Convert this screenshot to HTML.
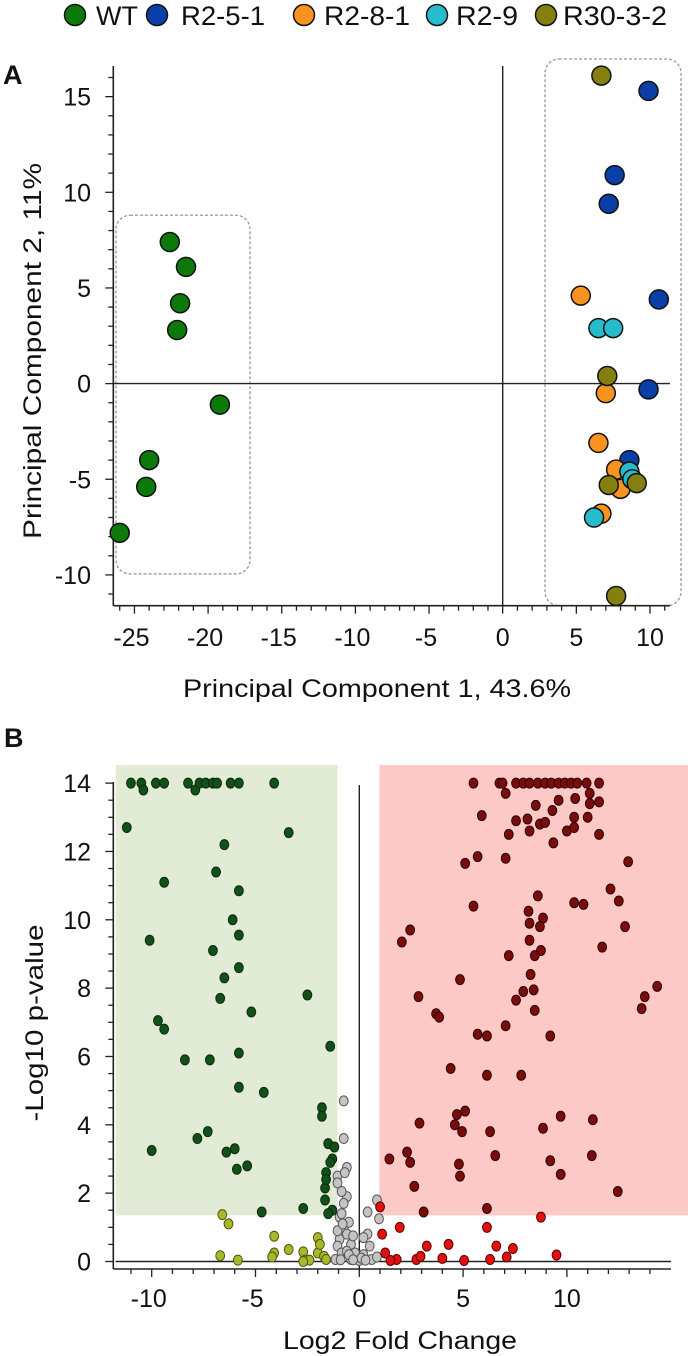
<!DOCTYPE html>
<html><head><meta charset="utf-8"><style>
html,body{margin:0;padding:0;background:#fff}
svg{display:block}
text{font-family:"Liberation Sans",Arial,sans-serif;fill:#111}
</style></head><body>
<svg id="s" width="688" height="1356" viewBox="0 0 688 1356" xmlns="http://www.w3.org/2000/svg">
<g id="legend"></g>
<text x="3" y="84" font-size="27" font-weight="bold">A</text>
<g id="pca"></g>
<text x="4" y="747" font-size="27" font-weight="bold">B</text>
<g id="vol"></g>
</svg>
<script>
// ---------- PCA data ----------
const groupNames = ["WT","R2-5-1","R2-8-1","R2-9","R30-3-2"];
const groupColors = ["#0b7a0b","#0b3fa8","#f7931e","#27bccb","#857f10"];
const wtPts = [[-22.6,7.4],[-21.5,6.1],[-21.9,4.2],[-22.1,2.8],[-19.2,-1.1],[-24,-4],[-24.2,-5.4],[-26,-7.8]];
const r251Pts = [[9.9,15.3],[7.6,10.9],[7.2,9.4],[10.6,4.4],[9.9,-0.3],[8.6,-4]];
const r281Pts = [[5.3,4.6],[7.0,-0.5],[6.5,-3.1],[7.7,-4.5],[8.0,-5.5],[6.7,-6.8]];
const r29Pts = [[6.5,2.9],[7.5,2.9],[8.6,-4.6],[8.8,-5],[6.2,-7]];
const r3032Pts = [[6.7,16.1],[7.1,0.4],[7.2,-5.3],[9.1,-5.2],[7.7,-11.1]];
const pcaXTicks = [-25,-20,-15,-10,-5,0,5,10];
const pcaYTicks = [-10,-5,0,5,10,15];

// ---------- Volcano data ----------
const downSig = [[-11.0,14.0],[-10.5,14.0],[-10.4,13.8],[-9.8,14.0],[-9.4,14.0],[-8.25,14.0],[-7.9,13.8],[-7.7,14.0],[-7.4,14.0],[-7.05,14.0],[-6.85,14.0],[-6.2,14.0],[-5.8,14.0],[-4.1,14.0],[-11.2,12.7],[-3.4,12.55],[-6.5,12.2],[-6.9,11.4],[-9.4,11.1],[-5.8,10.85],[-6.1,10.0],[-10.1,9.4],[-5.8,9.55],[-7.05,9.1],[-5.8,8.6],[-6.5,8.3],[-6.7,7.7],[-2.5,7.8],[-5.2,7.3],[-9.7,7.05],[-9.4,6.8],[-5.8,6.1],[-1.4,6.3],[-8.4,5.9],[-7.2,5.9],[-5.8,5.1],[-4.6,4.95],[-1.8,4.5],[-1.8,4.25],[-7.8,3.6],[-7.3,3.8],[-10.0,3.25],[-6.4,3.2],[-6.0,3.3],[-5.4,2.8],[-5.9,2.7],[-1.5,3.45],[-1.2,3.35],[-1.3,3.0],[-1.6,2.6],[-1.65,2.15],[-1.65,1.8],[-1.3,1.5],[-1.5,1.4],[-4.7,1.45],[-2.7,1.55],[-1.4,2.9],[-1.6,2.4]];
const downNs = [[-6.6,1.37],[-6.3,1.1],[-4.1,0.74],[-2.0,0.7],[-3.4,0.35],[-4.1,0.25],[-6.7,0.17],[-5.85,0.04],[-4.2,0.13],[-2.7,0.28],[-2.0,0.25],[-1.7,0.15],[-2.6,0.04],[-2.4,0.04],[-1.6,0.06],[-1.9,0.5],[-2.7,0.0]];
const neutral = [[-0.75,4.7],[-0.75,3.6],[-0.6,2.75],[-1.05,2.5],[-0.6,1.9],[-0.75,1.7],[0.85,1.8],[0.4,1.45],[0.95,1.25],[-0.95,1.3],[-0.75,1.0],[-0.6,0.8],[-0.95,0.65],[0.4,0.8],[0.2,0.7],[-1.05,0.45],[-0.4,0.5],[0.5,0.45],[-0.85,0.25],[-0.2,0.25],[0.2,0.2],[-0.4,0.06],[0.6,0.06],[0,0.03],[-1.15,0.06],[-0.6,0.3],[0.85,0.13],[-0.3,0.75],[-1.05,0.9],[-0.5,1.15],[-0.85,1.4],[-0.85,2.05],[-1.05,2.3],[-0.7,2.6],[-0.8,1.1],[-0.5,0.2],[0.1,0.1],[-0.9,0.05],[-0.3,0.05],[0.3,0.04]];
const upNs = [[1.0,1.6],[1.1,0.8],[1.95,1.0],[6.15,1.0],[8.75,1.3],[3.25,0.45],[4.3,0.5],[6.6,0.45],[7.4,0.38],[9.5,0.19],[1.25,0.25],[1.8,0.06],[2.75,0.06],[4.0,0.09],[5.05,0.03],[6.3,0.06],[7.1,0.13],[1.5,0.03],[2.95,0.15]];
const upSig = [[5.5,14],[6.75,14],[6.9,14],[7.55,14],[7.9,14],[8.2,14],[8.6,14],[8.95,14],[9.25,14],[9.6,14],[9.9,14],[10.2,14],[10.5,14],[10.95,14],[11.55,14],[7.05,13.7],[11.1,13.7],[9.6,13.5],[10.4,13.55],[11.1,13.4],[11.55,13.45],[8.5,13.35],[9.3,13.2],[5.9,13.05],[7.55,12.9],[8.1,12.95],[8.7,12.8],[8.95,12.85],[10.35,13.0],[11.0,13.0],[7.2,12.5],[8.2,12.6],[10.0,12.6],[10.35,12.7],[11.55,12.5],[9.35,12.25],[5.7,11.85],[7.05,11.8],[5.1,11.65],[12.95,11.7],[12.1,10.9],[8.6,10.7],[12.5,10.55],[5.5,10.4],[10.35,10.5],[10.8,10.45],[8.15,10.25],[8.85,10.05],[8.2,9.9],[8.7,9.8],[12.8,9.8],[2.45,9.7],[2.05,9.35],[8.2,9.4],[11.7,9.2],[8.75,9.1],[8.45,8.95],[7.2,8.95],[8.25,8.4],[4.85,8.25],[8.4,7.95],[7.9,7.9],[14.35,8.05],[13.75,7.75],[2.85,7.75],[7.55,7.65],[8.45,7.35],[13.6,7.4],[3.7,7.25],[3.85,7.15],[7.05,6.9],[5.7,6.65],[6.15,6.6],[9.2,6.6],[4.4,5.65],[6.15,5.45],[7.8,5.45],[5.1,4.4],[4.7,4.3],[9.7,4.25],[11.25,4.15],[2.9,4.05],[4.6,4.0],[4.95,3.8],[6.3,3.8],[8.85,3.9],[2.3,3.2],[1.45,3.0],[2.45,2.9],[6.55,3.1],[9.2,2.95],[11.2,3.1],[4.8,2.85],[4.85,2.5],[9.7,2.55],[2.65,2.2],[12.45,2.05],[6.15,1.55],[3.1,1.45]];
const volXTicks = [-10,-5,0,5,10];
const volYTicks = [0,2,4,6,8,10,12,14];

const NS = "http://www.w3.org/2000/svg";
function mk(parent, tag, attrs){const e=document.createElementNS(NS,tag);for(const k in attrs)e.setAttribute(k,attrs[k]);parent.appendChild(e);return e;}

// ---------- Legend ----------
const lg = document.getElementById('legend');
const legCx = [75,157,304,437,546];
const legTx = [96,181,324,456,563];
const legW = [42,84,86,62,104];
groupNames.forEach((n,i)=>{
  const g = mk(lg,'g',{});
  
  
  const c = mk(g,'circle',{cx:legCx[i],cy:15,r:10.5,fill:groupColors[i],stroke:'#111','stroke-width':1.5});
  
  
  const t = mk(g,'text',{x:legTx[i],y:25,'font-size':27,textLength:legW[i],lengthAdjust:'spacingAndGlyphs'});
  
  
  t.textContent = n;
});

// ---------- PCA ----------
const pa = document.getElementById('pca');
const ax = v => 502.7 + 14.73*v;
const ay = v => 383.6 - 19.13*v;
const aL=113.3, aR=670, aT=66, aB=605.7;
let b1 = mk(pa,'rect',{x:116,y:ay(8.8),width:250-116,height:ay(-9.95)-ay(8.8),rx:14,fill:'none',stroke:'#999','stroke-width':1.3,'stroke-dasharray':'3,2'});
 
let b2 = mk(pa,'rect',{x:545,y:59,width:681-545,height:aB-59,rx:14,fill:'none',stroke:'#999','stroke-width':1.3,'stroke-dasharray':'3,2'});
 
let zh = mk(pa,'line',{x1:aL,x2:aR,y1:ay(0),y2:ay(0),stroke:'#222','stroke-width':1.4});
 
let zv = mk(pa,'line',{x1:ax(0),x2:ax(0),y1:aT,y2:aB,stroke:'#222','stroke-width':1.4});
 
let ya = mk(pa,'line',{x1:aL,x2:aL,y1:aT,y2:aB,stroke:'#222','stroke-width':1.6});
 
let xa = mk(pa,'line',{x1:aL,x2:aR,y1:aB,y2:aB,stroke:'#222','stroke-width':1.6});
 
for(let v=-26; v<=11; v++){
  const maj = v%5===0;
  mk(pa,'line',{x1:ax(v),x2:ax(v),y1:aB,y2:aB+(maj?8:5),stroke:'#222','stroke-width':1.3});
}
for(let v=-11; v<=16; v++){
  const maj = v%5===0;
  mk(pa,'line',{x1:aL,x2:aL-(maj?8:5),y1:ay(v),y2:ay(v),stroke:'#222','stroke-width':1.3});
}
pcaXTicks.forEach(v=>{
  const t = mk(pa,'text',{x:ax(v)-(v<0?3:0),y:646,'font-size':25,'text-anchor':'middle'});
   
  t.textContent = v;
});
pcaYTicks.forEach(v=>{
  const t = mk(pa,'text',{x:91,y:ay(v)+9,'font-size':25,'text-anchor':'end'});
   
  t.textContent = v;
});
let xt = mk(pa,'text',{x:377,y:697,'font-size':25,'text-anchor':'middle',textLength:388,lengthAdjust:'spacingAndGlyphs'});
 
xt.textContent = 'Principal Component 1, 43.6%';
let yt = mk(pa,'text',{x:0,y:0,'font-size':25,'text-anchor':'middle',textLength:376,lengthAdjust:'spacingAndGlyphs',transform:'translate(41,351) rotate(-90)'});
 
yt.textContent = 'Principal Component 2, 11%';
[wtPts,r251Pts,r281Pts,r29Pts,r3032Pts].forEach((arr,gi)=>{
  arr.forEach(p=>{
    const c = mk(pa,'circle',{cx:ax(p[0]),cy:ay(p[1]),r:9.5,fill:groupColors[gi],stroke:'#111','stroke-width':1.5});
    
    
  });
});

// ---------- Volcano ----------
const vg = document.getElementById('vol');
const bx = v => 359.3 + 20.76*v;
const by = v => 1261.5 - 34.17*v;
const vL=115.7, vR=671, vB=1269;
let gr = mk(vg,'rect',{x:vL,y:765,width:bx(-1.05)-vL,height:by(1.35)-765,fill:'#e2ebd6'});
 
let rr = mk(vg,'rect',{x:bx(0.97),y:765,width:688-bx(0.97),height:by(1.35)-765,fill:'#fdc9c6'});
 
let vzh = mk(vg,'line',{x1:vL,x2:vR,y1:by(0),y2:by(0),stroke:'#222','stroke-width':1.4});
 
let vzv = mk(vg,'line',{x1:bx(0),x2:bx(0),y1:785,y2:vB,stroke:'#222','stroke-width':1.4});
 
let vya = mk(vg,'line',{x1:113.3,x2:113.3,y1:782,y2:vB,stroke:'#222','stroke-width':1.6});
 
let vxa = mk(vg,'line',{x1:113.3,x2:vR,y1:vB,y2:vB,stroke:'#222','stroke-width':1.6});
 
for(let v=-11; v<=14; v++){
  const maj=v%5===0;
  mk(vg,'line',{x1:bx(v),x2:bx(v),y1:vB,y2:vB+(maj?8:5),stroke:'#222','stroke-width':1.3});
}
for(let v=0; v<=28; v++){
  const maj=v%4===0;
  mk(vg,'line',{x1:113.3,x2:113.3-(maj?8:5),y1:by(v/2),y2:by(v/2),stroke:'#222','stroke-width':1.3});
}
volXTicks.forEach(v=>{
  const t = mk(vg,'text',{x:bx(v)-(v<0?3:0),y:1307,'font-size':25,'text-anchor':'middle'});
   
  t.textContent = v;
});
volYTicks.forEach(v=>{
  const t = mk(vg,'text',{x:91,y:by(v)+9,'font-size':25,'text-anchor':'end'});
   
  t.textContent = v;
});
let vxt = mk(vg,'text',{x:400,y:1349,'font-size':25,'text-anchor':'middle',textLength:234,lengthAdjust:'spacingAndGlyphs'});
 
vxt.textContent = 'Log2 Fold Change';
let vyt = mk(vg,'text',{x:0,y:0,'font-size':25,'text-anchor':'middle',textLength:197,lengthAdjust:'spacingAndGlyphs',transform:'translate(43,1023) rotate(-90)'});
 
vyt.textContent = '-Log10 p-value';
const sets = [
  [neutral,'#c4c4c4','#555','neutral-gene'],
  [downNs,'#a9b828','#4d5410','down-nonsig-gene'],
  [upNs,'#e31010','#5a0000','up-nonsig-gene'],
  [downSig,'#12501a','#0a2a0a','down-sig-gene'],
  [upSig,'#7a0c0c','#2a0000','up-sig-gene']
];
sets.forEach(s=>{
  s[0].forEach(p=>{
    const e = mk(vg,'ellipse',{cx:bx(p[0]),cy:by(p[1]),rx:4.4,ry:5,fill:s[1],stroke:s[2],'stroke-width':1});
    
    
  });
});
</script>
</body></html>
